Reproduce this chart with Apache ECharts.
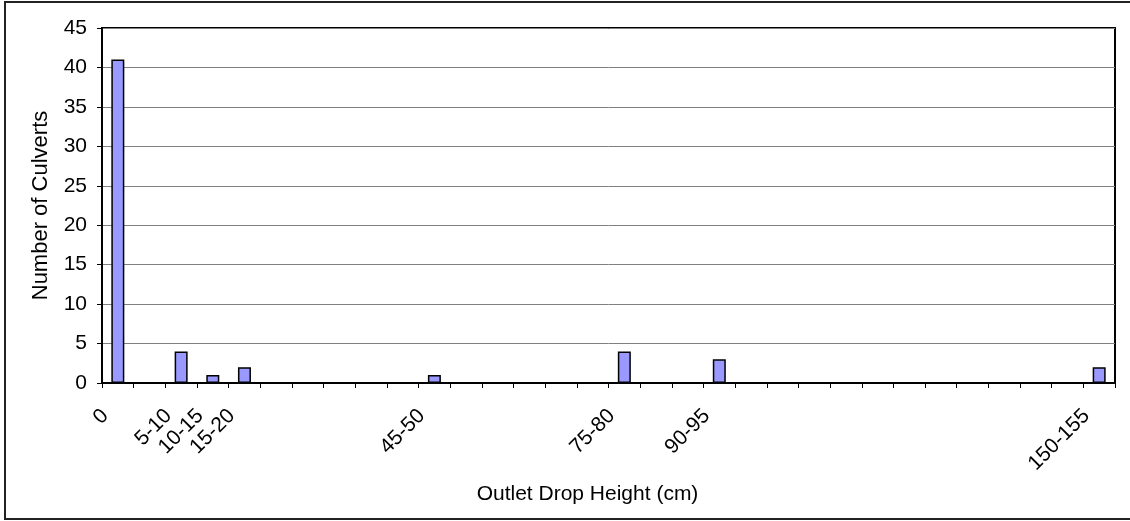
<!DOCTYPE html>
<html>
<head>
<meta charset="utf-8">
<script src="https://cdn.jsdelivr.net/npm/echarts@6/dist/echarts.min.js"></script>
<style>
html,body{margin:0;padding:0;background:#fff;}
#chart{width:1130px;height:521px;}
</style>
</head>
<body>
<div id="chart"></div>
<script>
var categories = ['0','0-5','5-10','10-15','15-20','20-25','25-30','30-35','35-40','40-45','45-50','50-55','55-60','60-65','65-70','70-75','75-80','80-85','85-90','90-95','95-100','100-105','105-110','110-115','115-120','120-125','125-130','130-135','135-140','140-145','145-150','150-155'];
var culverts = [41,0,4,1,2,0,0,0,0,0,1,0,0,0,0,0,4,0,0,3,0,0,0,0,0,0,0,0,0,0,0,2];
var tickLabels = ['0','','5-10','10-15','15-20','','','','','','45-50','','','','','','75-80','','','90-95','','','','','','','','','','','','150-155'];
var xTitle = 'Outlet Drop Height (cm)';
var yTitle = 'Number of Culverts';

var FONT = "'Liberation Sans', Arial, sans-serif";
var chart = echarts.init(document.getElementById('chart'));
chart.setOption({
  animation: false,
  backgroundColor: '#fff',
  graphic: [{
    type: 'rect', silent: true,
    shape: {x: 5, y: 2, width: 1140, height: 517},
    style: {fill: 'none', stroke: '#222', lineWidth: 2}
  }],
  grid: {left: 102, top: 28, right: 15, bottom: 138, show: true, borderColor: '#000', borderWidth: 2, backgroundColor: 'transparent'},
  xAxis: {
    type: 'category',
    data: categories,
    boundaryGap: true,
    name: xTitle,
    nameLocation: 'middle',
    nameGap: 101,
    nameTextStyle: {fontFamily: FONT, fontSize: 21, color: '#000', padding: [0, 42, 0, 0]},
    axisLine: {lineStyle: {color: '#000', width: 2}},
    axisTick: {show: true, interval: 0, length: 5, lineStyle: {color: '#000', width: 1}},
    axisLabel: {
      interval: 0, rotate: 45, margin: 17,
      fontFamily: FONT, fontSize: 21, color: '#000',
      padding: [0, 18, 0, 0],
      formatter: function (v, i) { return tickLabels[i]; }
    },
    splitLine: {show: false}
  },
  yAxis: {
    type: 'value',
    min: 0, max: 45, interval: 5,
    name: yTitle,
    nameLocation: 'middle',
    nameGap: 50,
    nameTextStyle: {fontFamily: FONT, fontSize: 22, color: '#000'},
    axisLine: {show: true, lineStyle: {color: '#000', width: 2}},
    axisTick: {show: true, length: 5, lineStyle: {color: '#000', width: 1}},
    axisLabel: {fontFamily: FONT, fontSize: 21, color: '#000', margin: 15},
    splitLine: {show: true, lineStyle: {color: '#808080', width: 1}}
  },
  series: [{
    type: 'bar',
    data: culverts,
    barWidth: 13,
    itemStyle: {color: '#9999FF', borderColor: '#000', borderWidth: 1.5}
  }]
});
</script>
</body>
</html>
